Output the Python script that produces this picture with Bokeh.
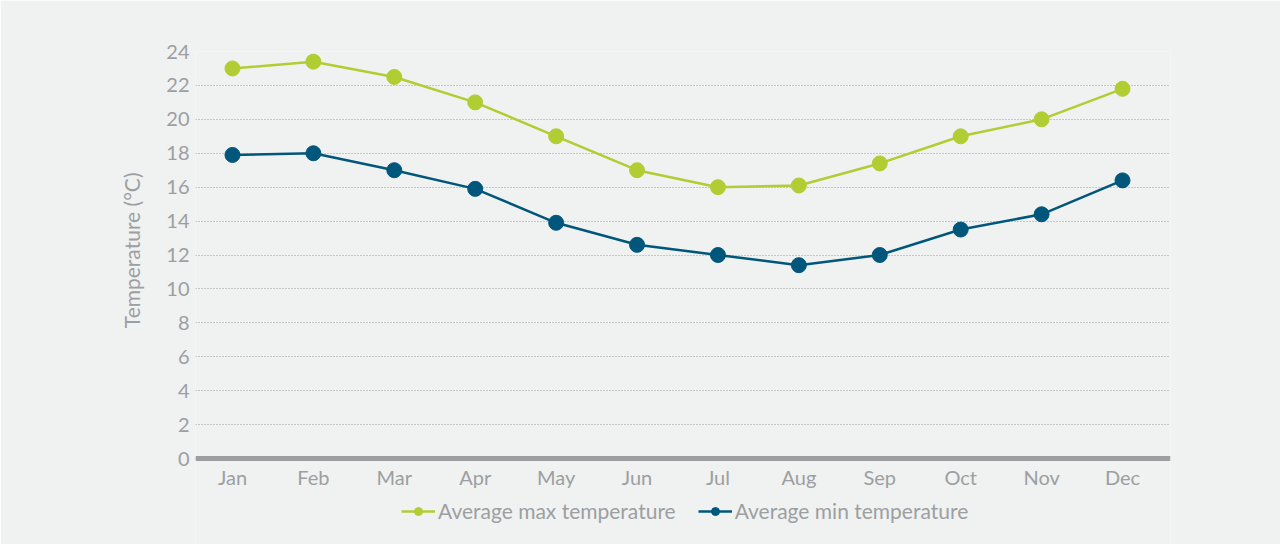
from bokeh.plotting import figure
from bokeh.models import Range1d, Legend, LegendItem, ColumnDataSource, FixedTicker, LinearAxis, Title
from bokeh.embed import file_html
from bokeh.resources import INLINE

months = ["Jan", "Feb", "Mar", "Apr", "May", "Jun", "Jul", "Aug", "Sep", "Oct", "Nov", "Dec"]
avg_max = [23.0, 23.4, 22.5, 21.0, 19.0, 17.0, 16.0, 16.1, 17.4, 19.0, 20.0, 21.8]
avg_min = [17.9, 18.0, 17.0, 15.9, 13.9, 12.6, 12.0, 11.4, 12.0, 13.5, 14.4, 16.4]
y_ticks = [0, 2, 4, 6, 8, 10, 12, 14, 16, 18, 20, 22, 24]

GREEN = "#b1cd34"
BLUE = "#00567b"
GREY = "#9c9fa1"
BG = "#f0f1f1"
FONT = "Lato"

idx = list(range(len(months)))
src = ColumnDataSource(dict(x=idx, mx=avg_max, mn=avg_min))

# frame spans down to the bottom of the figure so the legend fits inside it;
# y=0 sits 86px above the frame bottom (407px for 24 units)
px_per_unit = 407 / 24
p = figure(
    frame_width=975, frame_height=493,
    x_range=Range1d(-0.457, len(months) - 1 + 0.593),
    y_range=Range1d(-86 / px_per_unit, 24),
    x_axis_location=None,
    output_backend="svg", toolbar_location=None,
    min_border_left=195, min_border_right=110,
    min_border_top=51, min_border_bottom=0,
)
p.background_fill_color = BG
p.border_fill_color = BG
p.outline_line_color = None

# grid
p.xgrid.grid_line_color = None
p.ygrid.grid_line_color = "#9a9a9a"
p.ygrid.grid_line_dash = "1 2"
p.ygrid.grid_line_width = 1
p.yaxis.ticker = FixedTicker(ticks=y_ticks)

# y axis
p.yaxis.axis_line_color = None
p.yaxis.major_tick_line_color = None
p.yaxis.minor_tick_line_color = None
p.yaxis.major_label_text_font = FONT
p.yaxis.major_label_text_font_size = "20px"
p.yaxis.major_label_text_color = GREY
p.yaxis.major_label_standoff = 0

ytitle = Title(text="Temperature (°C)", align="right", offset=121,
               text_font=FONT, text_font_size="21px", text_font_style="normal",
               text_color=GREY, standoff=40)
p.add_layout(ytitle, "left")

# x axis fixed at y=0 inside the frame
xaxis = LinearAxis(fixed_location=0, ticker=FixedTicker(ticks=idx),
                   major_label_overrides={i: m for i, m in zip(idx, months)})
xaxis.axis_line_color = GREY
xaxis.axis_line_width = 5
xaxis.major_tick_line_color = None
xaxis.minor_tick_line_color = None
xaxis.major_label_text_font = FONT
xaxis.major_label_text_font_size = "20px"
xaxis.major_label_text_color = GREY
xaxis.major_label_standoff = 0
p.add_layout(xaxis, "below")

l1 = p.line("x", "mx", source=src, line_color=GREEN, line_width=2.5)
c1 = p.scatter("x", "mx", source=src, size=15, fill_color=GREEN, line_color=GREEN)
l2 = p.line("x", "mn", source=src, line_color=BLUE, line_width=2.5)
c2 = p.scatter("x", "mn", source=src, size=15, fill_color=BLUE, line_color=BLUE)

legend = Legend(
    items=[
        LegendItem(label="Average max temperature", renderers=[l1, c1]),
        LegendItem(label="Average min temperature", renderers=[l2, c2]),
    ],
    orientation="horizontal",
    location=(206, 21),
    label_text_font=FONT,
    label_text_font_size="21px",
    label_text_color=GREY,
    glyph_width=34,
    glyph_height=20,
    label_standoff=3,
    spacing=22,
    padding=0,
    margin=0,
    background_fill_alpha=0,
    border_line_color=None,
)
p.add_layout(legend, "center")

open("out.html", "w").write(file_html(p, INLINE))
